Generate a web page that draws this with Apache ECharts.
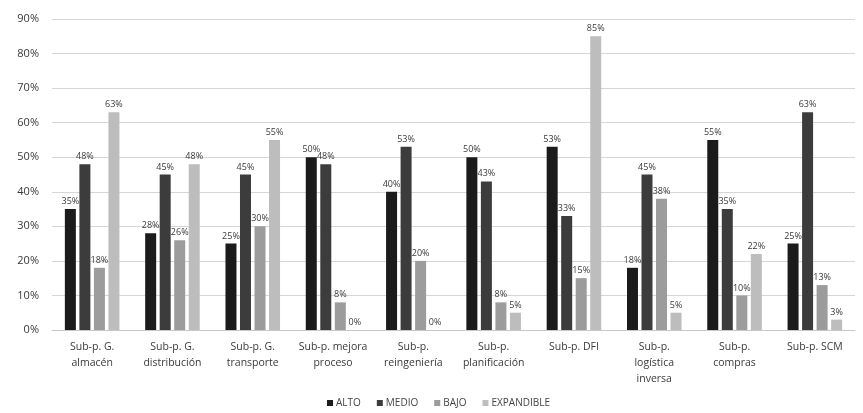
<!DOCTYPE html>
<html>
<head>
<meta charset="utf-8">
<script src="https://cdn.jsdelivr.net/npm/echarts@6/dist/echarts.min.js"></script>
<style>
  html, body { margin: 0; padding: 0; background: #fff; }
  #chart { width: 863px; height: 413px; }
</style>
</head>
<body>
<div id="chart"></div>
<script>
// datos
var categorias = [
  'Sub-p. G.\nalmacén', 'Sub-p. G.\ndistribución', 'Sub-p. G.\ntransporte',
  'Sub-p. mejora\nproceso', 'Sub-p.\nreingeniería', 'Sub-p.\nplanificación',
  'Sub-p. DFI', 'Sub-p.\nlogística\ninversa', 'Sub-p.\ncompras', 'Sub-p. SCM'
];
var alto       = [35, 28, 25, 50, 40, 50, 53, 18, 55, 25];
var medio      = [48, 45, 45, 48, 53, 43, 33, 45, 35, 63];
var bajo       = [18, 26, 30, 8, 20, 8, 15, 38, 10, 13];
var expandible = [63, 48, 55, 0, 0, 5, 85, 5, 22, 3];

var chart = echarts.init(document.getElementById('chart'), null, { renderer: 'canvas' });

function serie(nombre, datos, color) {
  return {
    name: nombre,
    type: 'bar',
    data: datos,
    barWidth: 11,
    barGap: '32%',
    itemStyle: { color: color },
    label: {
      show: true,
      position: 'top',
      distance: 3,
      formatter: '{c}%',
      fontSize: 9,
      color: '#3a3a3a',
      fontFamily: 'Open Sans'
    }
  };
}

var option = {
  animation: false,
  textStyle: { fontFamily: 'Open Sans' },
  grid: { left: 52, right: 8, top: 19, bottom: 83 },
  legend: {
    bottom: 0,
    left: 322,
    itemWidth: 6,
    itemHeight: 6,
    itemGap: 16,
    icon: 'rect',
    textStyle: { fontSize: 10, color: '#444', padding: [0, 0, 0, -2] },
    data: ['ALTO', 'MEDIO', 'BAJO', 'EXPANDIBLE']
  },
  xAxis: {
    type: 'category',
    data: categorias,
    axisLine: { lineStyle: { color: '#c8c8c8' } },
    axisTick: { show: false },
    axisLabel: { fontSize: 10.5, color: '#3a3a3a', lineHeight: 16, margin: 9, interval: 0 }
  },
  yAxis: {
    type: 'value',
    min: 0,
    max: 90,
    interval: 10,
    axisLabel: { formatter: '{value}%', fontSize: 11, color: '#3a3a3a', margin: 13 },
    splitLine: { lineStyle: { color: '#d6d6d6' } },
    axisLine: { show: false },
    axisTick: { show: false }
  },
  series: [
    serie('ALTO', alto, '#1b1b1b'),
    serie('MEDIO', medio, '#3c3c3c'),
    serie('BAJO', bajo, '#9c9c9c'),
    serie('EXPANDIBLE', expandible, '#bdbdbd')
  ]
};
chart.setOption(option);
</script>
</body>
</html>
